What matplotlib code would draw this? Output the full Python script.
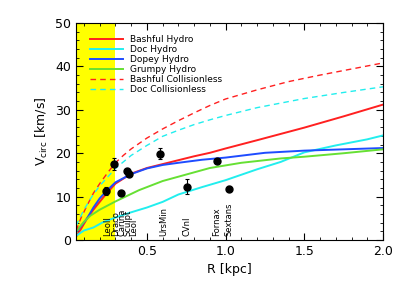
import matplotlib
matplotlib.use("Agg")
import matplotlib.pyplot as plt
from matplotlib.ticker import MultipleLocator

# rotation curves
r_bashful = [0.05, 0.08, 0.12, 0.16, 0.2, 0.24, 0.3, 0.4, 0.5, 0.6, 0.7, 0.8, 0.9, 1.0, 1.2, 1.5, 1.75, 2.0]
v_bashful = [0.8, 2.5, 5.0, 7.0, 8.8, 10.6, 13.0, 15.3, 16.6, 17.5, 18.4, 19.3, 20.1, 21.1, 23.0, 25.9, 28.5, 31.2]

r_doc = [0.05, 0.1, 0.16, 0.22, 0.3, 0.4, 0.5, 0.6, 0.7, 0.85, 1.0, 1.2, 1.35, 1.5, 1.7, 1.9, 2.0]
v_doc = [1.0, 2.2, 2.9, 4.1, 5.2, 6.4, 7.5, 8.8, 10.5, 12.2, 13.8, 16.3, 18.0, 20.2, 21.8, 23.2, 24.1]

r_dopey = [0.05, 0.08, 0.12, 0.16, 0.2, 0.24, 0.3, 0.4, 0.5, 0.6, 0.7, 0.85, 1.0, 1.25, 1.5, 1.75, 2.0]
v_dopey = [1.8, 3.2, 5.0, 7.5, 9.6, 11.2, 13.3, 15.2, 16.5, 17.3, 17.8, 18.5, 19.0, 20.1, 20.6, 20.9, 21.2]

r_grumpy = [0.05, 0.1, 0.14, 0.2, 0.3, 0.45, 0.6, 0.7, 0.84, 0.9, 1.1, 1.35, 1.5, 1.75, 2.0]
v_grumpy = [2.0, 4.2, 5.6, 7.0, 8.9, 11.5, 13.6, 14.6, 16.0, 16.6, 17.8, 18.8, 19.2, 20.0, 20.9]

r_bashful_cl = [0.05, 0.08, 0.12, 0.16, 0.2, 0.25, 0.3, 0.35, 0.4, 0.5, 0.6, 0.7, 0.8, 0.9, 1.0, 1.2, 1.4, 1.6, 1.8, 2.0]
v_bashful_cl = [2.2, 5.0, 8.0, 10.8, 13.0, 15.5, 17.8, 19.5, 21.0, 23.5, 25.6, 27.5, 29.3, 31.0, 32.5, 34.6, 36.5, 38.0, 39.4, 40.8]

r_doc_cl = [0.05, 0.1, 0.15, 0.2, 0.25, 0.3, 0.4, 0.5, 0.6, 0.7, 0.8, 0.9, 1.0, 1.2, 1.5, 1.75, 2.0]
v_doc_cl = [3.3, 7.0, 10.0, 12.5, 14.5, 16.5, 19.5, 21.8, 23.9, 25.3, 26.6, 27.7, 28.7, 30.5, 32.6, 34.0, 35.3]

# Local Group dwarfs
dwarf_names = ["LeoII", "Draco", "Carina", "Sculpt", "LeoI", "UrsMin", "CVnI", "Fornax", "Sextans"]
dwarf_r = [0.239, 0.291, 0.334, 0.376, 0.389, 0.584, 0.753, 0.948, 1.024]
dwarf_v = [11.3, 17.5, 10.9, 15.8, 15.3, 19.9, 12.3, 18.1, 11.8]
dwarf_err = [0.9, 1.3, 0.4, 0.4, 0.5, 1.2, 1.8, 0.3, 0.6]
label_r = [0.252, 0.302, 0.340, 0.378, 0.415, 0.605, 0.757, 0.944, 1.02]

fig = plt.figure(figsize=(4.07, 2.91), dpi=100)
ax = fig.add_axes([0.187, 0.175, 0.754, 0.746])

ax.axvspan(0.05, 0.3, color="#ffff00", zorder=0, lw=0)

ax.plot(r_bashful, v_bashful, color="#ff2020", lw=1.4, label="Bashful Hydro")
ax.plot(r_doc, v_doc, color="#22eeee", lw=1.4, label="Doc Hydro")
ax.plot(r_dopey, v_dopey, color="#1e4cff", lw=1.4, label="Dopey Hydro")
ax.plot(r_grumpy, v_grumpy, color="#66e033", lw=1.4, label="Grumpy Hydro")
ax.plot(r_bashful_cl, v_bashful_cl, color="#ff2020", lw=1.0, dashes=(4, 3), label="Bashful Collisionless")
ax.plot(r_doc_cl, v_doc_cl, color="#22eeee", lw=1.0, dashes=(4, 3), label="Doc Collisionless")

ax.errorbar(dwarf_r, dwarf_v, yerr=dwarf_err, fmt="o", color="black", ms=5,
            elinewidth=0.8, capsize=1.5, capthick=0.8, zorder=5)

# vertical names along the bottom
for name, x in zip(dwarf_names, label_r):
    ax.text(x, 1.0, name, rotation=90, ha="center", va="bottom", fontsize=6)

ax.set_xlim(0.05, 2.0)
ax.set_ylim(0, 50)
ax.xaxis.set_major_locator(MultipleLocator(0.5))
ax.xaxis.set_minor_locator(MultipleLocator(0.1))
ax.yaxis.set_major_locator(MultipleLocator(10))
ax.yaxis.set_minor_locator(MultipleLocator(2))
ax.tick_params(which="both", direction="in", top=True, right=True, labelsize=9)
ax.tick_params(which="major", length=5, width=0.8)
ax.tick_params(which="minor", length=2.5, width=0.6)
for s in ax.spines.values():
    s.set_linewidth(0.8)

ax.set_xlabel("R [kpc]", fontsize=9)
ax.set_ylabel(r"V$_{\rm circ}$ [km/s]", fontsize=9)

ax.legend(loc="upper left", bbox_to_anchor=(0.045, 0.945), frameon=False, fontsize=6.5,
          handlelength=3.7, handletextpad=0.7, labelspacing=0.12, borderpad=0, borderaxespad=0)

fig.savefig("out.png", dpi=100)
